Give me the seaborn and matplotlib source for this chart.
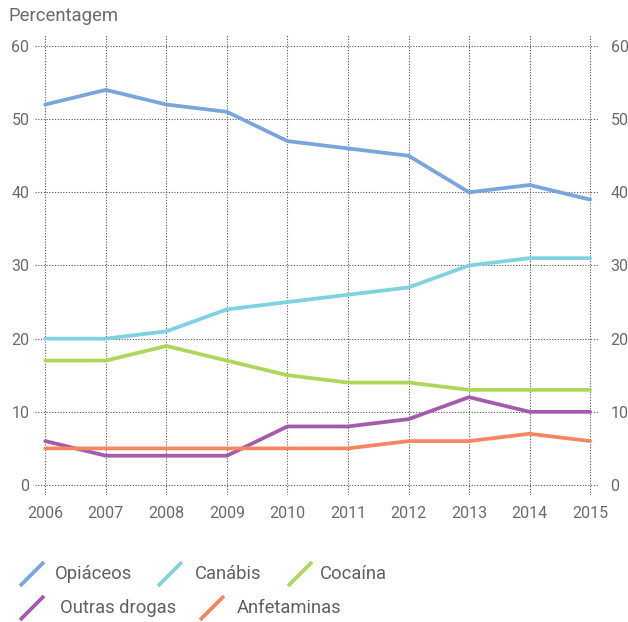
import matplotlib
matplotlib.use("Agg")
import matplotlib.pyplot as plt
from matplotlib.lines import Line2D
import seaborn as sns
import pandas as pd

years = [2006, 2007, 2008, 2009, 2010, 2011, 2012, 2013, 2014, 2015]
opiaceos = [52, 54, 52, 51, 47, 46, 45, 40, 41, 39]
canabis = [20, 20, 21, 24, 25, 26, 27, 30, 31, 31]
cocaina = [17, 17, 19, 17, 15, 14, 14, 13, 13, 13]
outras = [6, 4, 4, 4, 8, 8, 9, 12, 10, 10]
anfetaminas = [5, 5, 5, 5, 5, 5, 6, 6, 7, 6]

series_names = ["Opiáceos", "Canábis", "Cocaína", "Outras drogas", "Anfetaminas"]
series_values = [opiaceos, canabis, cocaina, outras, anfetaminas]
colors = ["#78a5dc", "#80d1e1", "#aed65a", "#a55bab", "#f7855f"]
y_ticks = [0, 10, 20, 30, 40, 50, 60]

rows = []
for name, vals in zip(series_names, series_values):
    for yr, v in zip(years, vals):
        rows.append({"Ano": yr, "Percentagem": v, "Droga": name})
df = pd.DataFrame(rows)

sns.set_style("white")
plt.rcParams["font.family"] = ["Roboto", "DejaVu Sans"]

W, H = 628, 622
fig = plt.figure(figsize=(W / 100, H / 100), dpi=100)
ax = fig.add_axes([35 / W, (H - 495) / H, (598 - 35) / W, (495 - 35) / H])

sns.lineplot(data=df, x="Ano", y="Percentagem", hue="Droga",
             hue_order=series_names, palette=colors, linewidth=2.7,
             legend=False, ax=ax, zorder=3)

ylim = (-1.37, 61.5)
ax.set_xlim(2005.83, 2015.13)
ax.set_ylim(*ylim)
ax.set_xticks(years)
ax.set_yticks(y_ticks)
ax.grid(True, linestyle=(0, (1, 1.5)), color="#555555", linewidth=0.8)
for s in ax.spines.values():
    s.set_visible(False)
ax.set_xlabel("")
ax.set_ylabel("")
ax.tick_params(axis="both", length=0, labelsize=11.5, labelcolor="#6b6b6b")
ax.tick_params(axis="x", pad=8)
ax.tick_params(axis="y", pad=4)

# mirrored value scale on the right
axr = ax.twinx()
axr.set_ylim(*ylim)
axr.set_yticks(y_ticks)
axr.grid(False)
for s in axr.spines.values():
    s.set_visible(False)
axr.tick_params(axis="y", length=0, labelsize=11.5, labelcolor="#6b6b6b", pad=9)

fig.text(8 / W, 1 - 16 / H, "Percentagem", fontsize=13.3, color="#6b6b6b",
         va="center", ha="left")

# legend: diagonal swatches with labels, laid out in two rows
legend_rows = [
    [(0, 20, 55), (1, 158, 195), (2, 288, 320)],
    [(3, 20, 60), (4, 200, 237)],
]
row_y = [574, 608]
for items, yc in zip(legend_rows, row_y):
    for idx, hx, tx in items:
        line = Line2D([hx / W, (hx + 24) / W],
                      [1 - (yc + 12) / H, 1 - (yc - 12) / H],
                      transform=fig.transFigure, color=colors[idx],
                      linewidth=2.7, solid_capstyle="butt")
        fig.add_artist(line)
        fig.text(tx / W, 1 - yc / H, series_names[idx], fontsize=13.2,
                 color="#606060", va="center", ha="left")

fig.savefig("out.png", dpi=100)
